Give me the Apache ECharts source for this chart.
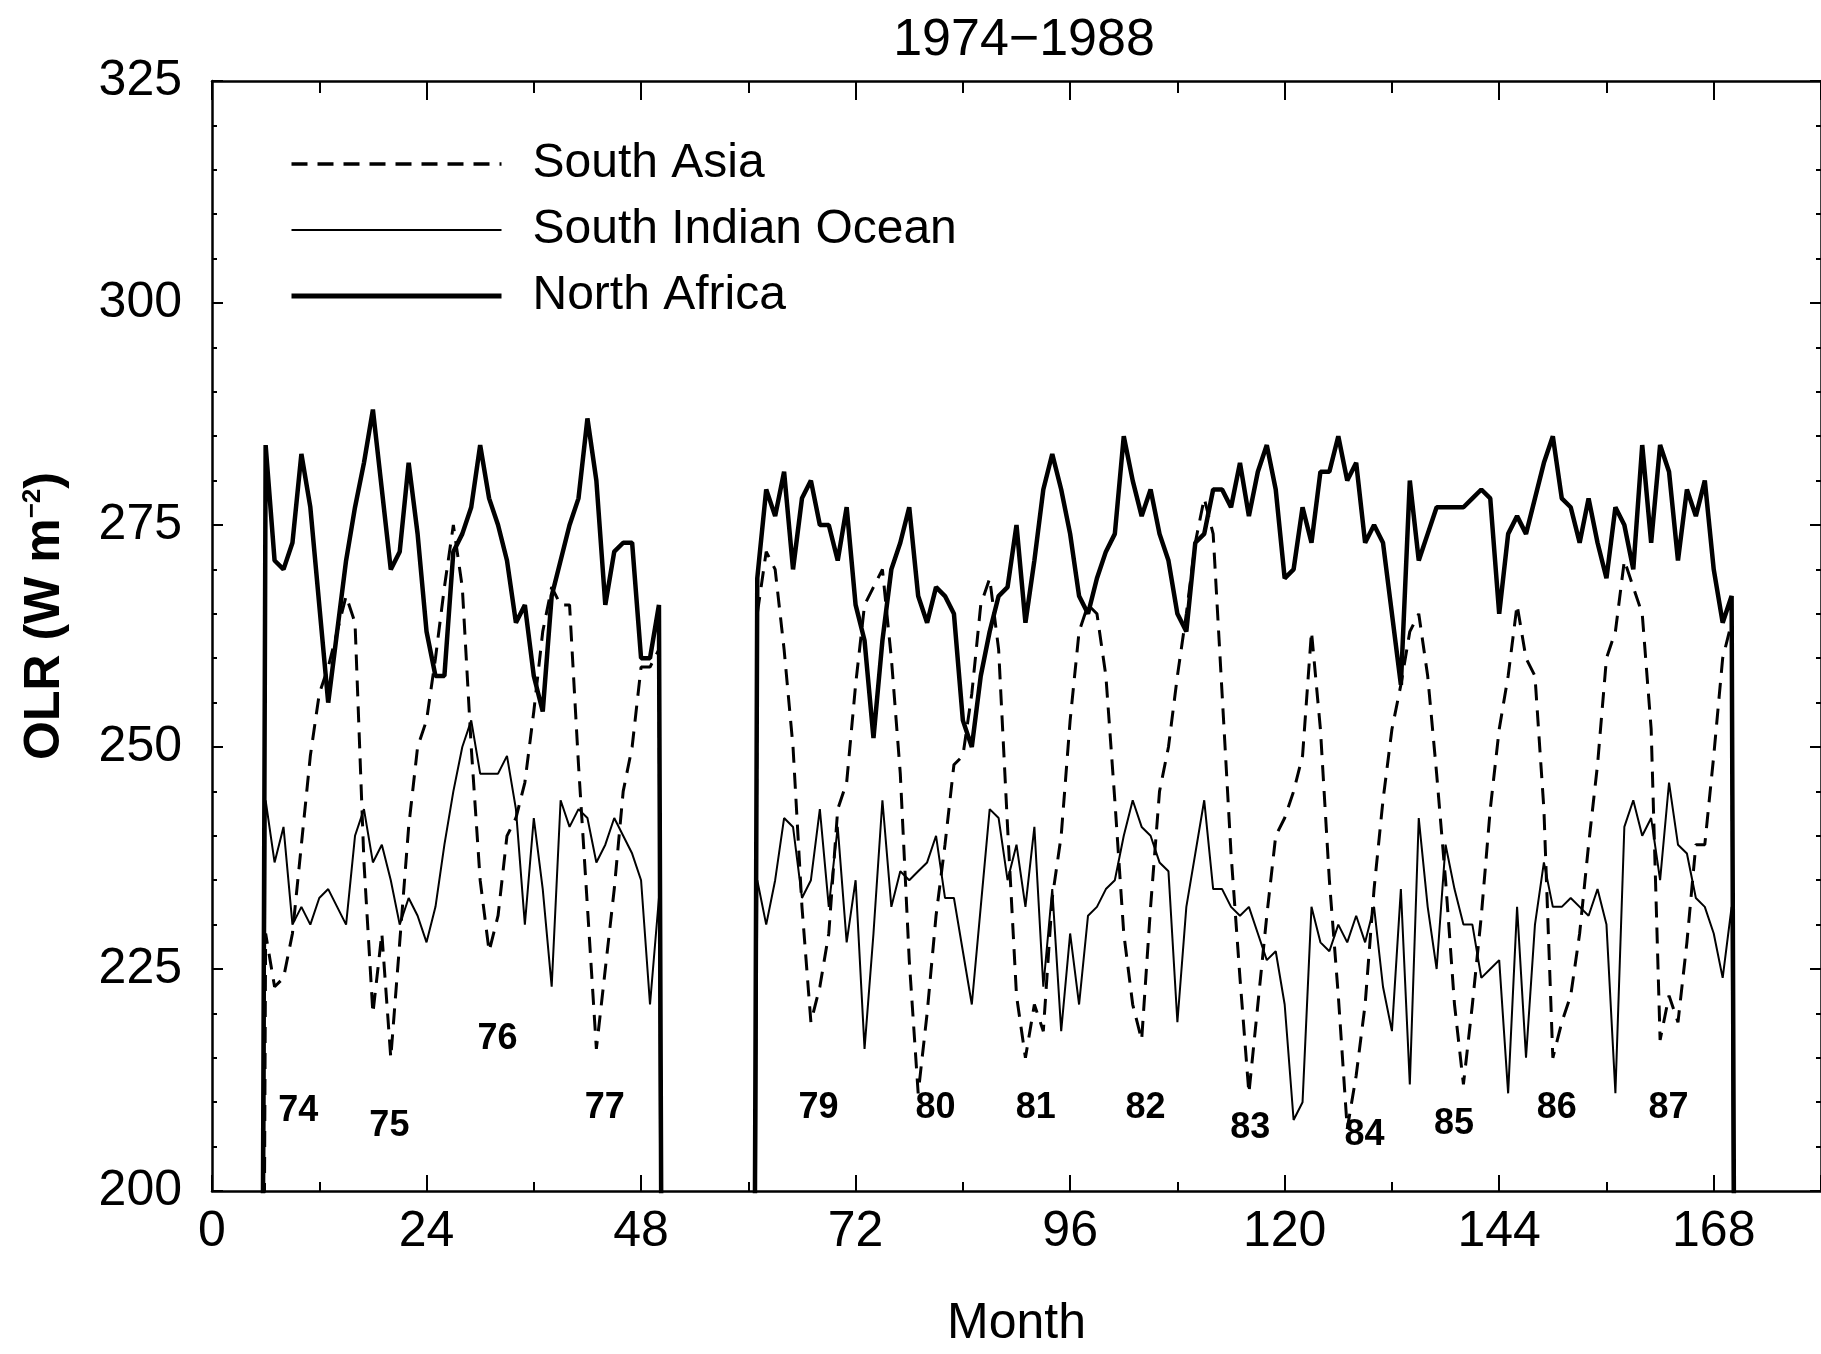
<!DOCTYPE html>
<html>
<head>
<meta charset="utf-8">
<script src="https://cdn.jsdelivr.net/npm/echarts@6/dist/echarts.min.js"></script>
<style>
  html, body { margin: 0; padding: 0; background: #fff; }
  #chartBox { width: 1821px; height: 1354px; }
</style>
</head>
<body>
<div id="chartBox"></div>
<script>
// months are counted from Jan 1974 = 1; record 1 runs from month 6, record 2 from month 61
const seg1Start = 6
const seg2Start = 61
// missing months were plotted as 0 in the original, so the lines drop off the axis
const missingValue = 0

// South Asia (dashed)
const southAsia1 = [
  229, 223, 224, 229, 239, 249, 256, 259, 263, 267, 264, 237, 220, 229, 215, 228,
  241, 250, 253, 260, 268, 275, 268, 250, 235, 227, 231, 240, 242, 246, 254, 263,
  268, 266, 266, 248, 232, 216, 225, 234, 245, 250, 259, 259, 261
]
const southAsia2 = [
  265, 272, 270, 261, 250, 232, 219, 223, 229, 243, 246, 257, 266, 268, 270, 260,
  247, 226, 211, 220, 231, 239, 248, 249, 256, 266, 269, 261, 241, 222, 215, 221,
  218, 233, 240, 253, 263, 266, 265, 258, 244, 229, 221, 217, 232, 245, 250, 258,
  265, 273, 278, 274, 256, 238, 224, 211, 221, 231, 240, 242, 245, 249, 263, 252,
  235, 222, 207, 213, 221, 234, 244, 252, 257, 263, 265, 258, 247, 235, 221, 212,
  221, 231, 243, 252, 258, 266, 260, 258, 243, 215, 219, 222, 229, 239, 248, 260,
  263, 271, 268, 265, 252, 217, 222, 219, 228, 239, 239, 249, 260, 264
]

// South Indian Ocean (thin)
const southIndian1 = [
  244, 237, 241, 230, 232, 230, 233, 234, 232, 230, 240, 243, 237, 239, 235, 230,
  233, 231, 228, 232, 239, 245, 250, 253, 247, 247, 247, 249, 243, 230, 242, 234,
  223, 244, 241, 243, 242, 237, 239, 242, 240, 238, 235, 221, 233
]
const southIndian2 = [
  235, 230, 235, 242, 241, 233, 235, 243, 232, 241, 228, 235, 216, 229, 244, 232,
  236, 235, 236, 237, 240, 233, 233, 227, 221, 232, 243, 242, 235, 239, 232, 241,
  223, 234, 218, 229, 221, 231, 232, 234, 235, 240, 244, 241, 240, 237, 236, 219,
  232, 238, 244, 234, 234, 232, 231, 232, 229, 226, 227, 221, 208, 210, 232, 228,
  227, 230, 228, 231, 228, 232, 223, 218, 234, 212, 242, 232, 225, 239, 234, 230,
  230, 224, 225, 226, 211, 232, 215, 230, 237, 232, 232, 233, 232, 231, 234, 230,
  211, 241, 244, 240, 242, 235, 246, 239, 238, 233, 232, 229, 224, 232
]

// North Africa (thick)
const northAfrica1 = [
  284, 271, 270, 273, 283, 277, 266, 255, 263, 271, 277, 282, 288, 279, 270, 272,
  282, 274, 263, 258, 258, 272, 274, 277, 284, 278, 275, 271, 264, 266, 258, 254,
  267, 271, 275, 278, 287, 280, 266, 272, 273, 273, 260, 260, 266
]
const northAfrica2 = [
  269, 279, 276, 281, 270, 278, 280, 275, 275, 271, 277, 266, 262, 251, 262, 270,
  273, 277, 267, 264, 268, 267, 265, 253, 250, 258, 263, 267, 268, 275, 264, 271,
  279, 283, 279, 274, 267, 265, 269, 272, 274, 285, 280, 276, 279, 274, 271, 265,
  263, 273, 274, 279, 279, 277, 282, 276, 281, 284, 279, 269, 270, 277, 273, 281,
  281, 285, 280, 282, 273, 275, 273, 265, 257, 280, 271, 274, 277, 277, 277, 277,
  278, 279, 278, 265, 274, 276, 274, 278, 282, 285, 278, 277, 273, 278, 273, 269,
  277, 275, 270, 284, 273, 284, 281, 271, 279, 276, 280, 270, 264, 267
]

// year labels written under the curves
const yearLabels = ['74', '75', '76', '77', '79', '80', '81', '82', '83', '84', '85', '86', '87']
const yearLabelMonth = [9.7, 19.9, 32, 44, 67.9, 81, 92.2, 104.5, 116.2, 129, 139, 150.5, 163]
const yearLabelOLR = [209, 207.3, 217, 209.3, 209.3, 209.3, 209.3, 209.3, 207, 206.2, 207.5, 209.3, 209.3]

const xTicks = { min: 0, max: 180, interval: 24 }
const yTicks = { min: 200, max: 325, interval: 25 }

function buildSeries (part1, part2) {
  const out = [[seg1Start - 1, missingValue]]
  part1.forEach((v, i) => out.push([seg1Start + i, v]))
  out.push([seg1Start + part1.length, missingValue])
  out.push([seg2Start - 1, missingValue])
  part2.forEach((v, i) => out.push([seg2Start + i, v]))
  out.push([seg2Start + part2.length, missingValue])
  return out
}

const font = 'Liberation Sans, Arial, sans-serif'
const black = '#000'

const baseX = {
  type: 'value',
  min: xTicks.min,
  max: xTicks.max,
  interval: xTicks.interval,
  axisLine: { show: true, onZero: false, lineStyle: { color: black, width: 2.5 } },
  axisTick: { show: true, inside: true, length: 16, lineStyle: { color: black, width: 2 } },
  minorTick: { show: true, splitNumber: 2, length: 9, lineStyle: { color: black, width: 2 } },
  splitLine: { show: false }
}
const baseY = {
  type: 'value',
  min: yTicks.min,
  max: yTicks.max,
  interval: yTicks.interval,
  axisLine: { show: true, onZero: false, lineStyle: { color: black, width: 2.5 } },
  axisTick: { show: true, inside: true, length: 11, lineStyle: { color: black, width: 2 } },
  minorTick: { show: true, splitNumber: 5, length: 5, lineStyle: { color: black, width: 2 } },
  splitLine: { show: false }
}

let myChart = echarts.init(document.getElementById('chartBox'))
myChart.setOption({
  animation: false,
  backgroundColor: '#fff',
  textStyle: { fontFamily: font, color: black },
  title: {
    text: '1974\u22121988',
    left: 1019,
    top: 10,
    textAlign: 'center',
    textStyle: { fontFamily: font, fontSize: 52, fontWeight: 'normal', color: black }
  },
  grid: { left: 212, top: 81, bottom: 160, right: -6 },
  legend: {
    data: [
      { name: 'South Asia', lineStyle: { width: 3.5 } },
      { name: 'South Indian Ocean', lineStyle: { width: 2 } },
      { name: 'North Africa', lineStyle: { width: 5 } }
    ],
    orient: 'vertical',
    left: 284,
    top: 134,
    itemWidth: 210,
    itemHeight: 14,
    itemGap: 16,
    itemStyle: { opacity: 0 },
    textStyle: { fontFamily: font, fontSize: 48, color: black, lineHeight: 50, padding: [0, 0, 0, 26] }
  },
  xAxis: [
    Object.assign({}, baseX, {
      position: 'bottom',
      name: 'Month',
      nameLocation: 'middle',
      nameGap: 108,
      nameTextStyle: { fontFamily: font, fontSize: 50, color: black },
      axisLabel: { show: true, margin: 16, fontFamily: font, fontSize: 50, color: black, showMaxLabel: false }
    }),
    Object.assign({}, baseX, {
      position: 'top',
      axisTick: { show: true, inside: true, length: 19, lineStyle: { color: black, width: 2 } },
      minorTick: { show: true, splitNumber: 2, length: 12, lineStyle: { color: black, width: 2 } },
      axisLabel: { show: false }
    })
  ],
  yAxis: [
    Object.assign({}, baseY, {
      position: 'left',
      name: 'OLR (W m{sup|\u22122})',
      nameLocation: 'middle',
      nameGap: 142,
      nameRotate: 90,
      nameTextStyle: {
        fontFamily: font, fontSize: 50, fontWeight: 'bold', color: black,
        padding: [0, 0, 0, 40],
        rich: { sup: { fontFamily: font, fontSize: 26, fontWeight: 'bold', color: black, verticalAlign: 'top' } }
      },
      axisLabel: { show: true, margin: 30, fontFamily: font, fontSize: 50, color: black }
    }),
    Object.assign({}, baseY, {
      position: 'right',
      axisLabel: { show: false }
    })
  ],
  series: [
    {
      name: 'South Asia',
      type: 'line',
      symbol: 'none',
      clip: true,
      data: buildSeries(southAsia1, southAsia2),
      lineStyle: { color: black, width: 3, type: [16, 10] },
      itemStyle: { color: black },
      z: 3
    },
    {
      name: 'South Indian Ocean',
      type: 'line',
      symbol: 'none',
      clip: true,
      data: buildSeries(southIndian1, southIndian2),
      lineStyle: { color: black, width: 2 },
      itemStyle: { color: black },
      z: 3
    },
    {
      name: 'North Africa',
      type: 'line',
      symbol: 'none',
      clip: true,
      data: buildSeries(northAfrica1, northAfrica2),
      lineStyle: { color: black, width: 4.5 },
      itemStyle: { color: black },
      z: 4
    },
    {
      name: 'years',
      type: 'scatter',
      symbolSize: 1,
      itemStyle: { color: 'rgba(0,0,0,0)' },
      silent: true,
      data: yearLabels.map((t, i) => ({ name: t, value: [yearLabelMonth[i], yearLabelOLR[i]] })),
      label: {
        show: true,
        position: [0, 0],
        align: 'center',
        verticalAlign: 'middle',
        formatter: p => p.name,
        fontFamily: font,
        fontSize: 36,
        fontWeight: 'bold',
        color: '#000',
        opacity: 1
      },
      z: 5
    }
  ]
})
</script>
</body>
</html>
